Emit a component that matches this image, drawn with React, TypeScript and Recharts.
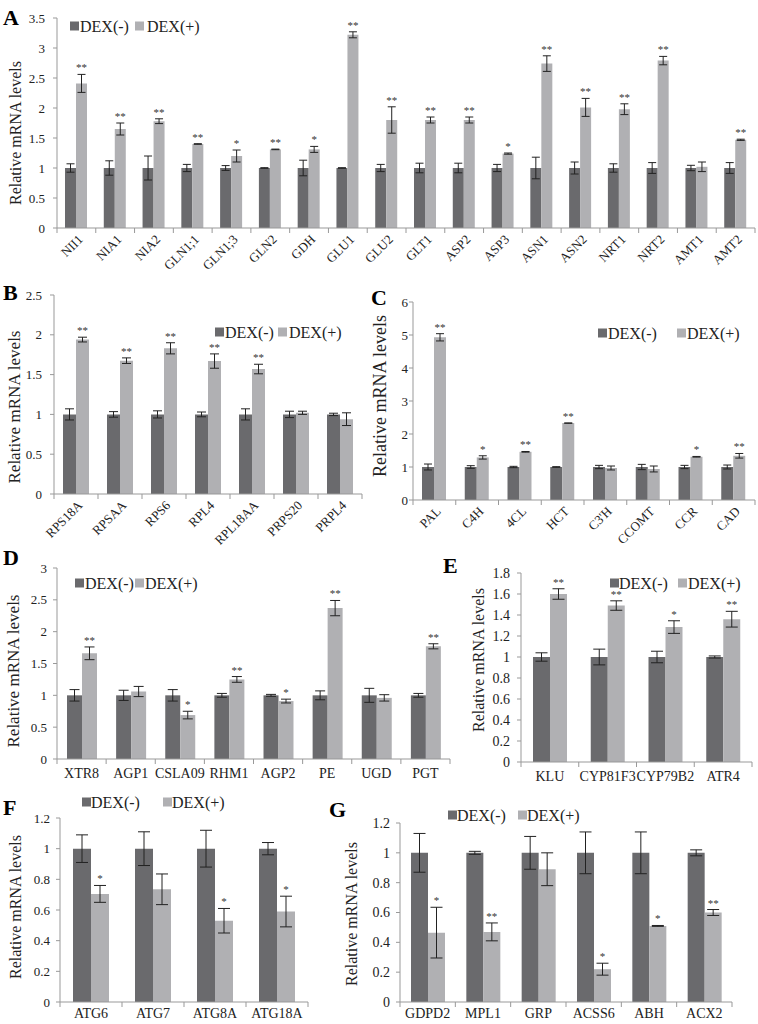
import React from 'react';
import { BarChart, Bar, XAxis, YAxis, ErrorBar, LabelList } from 'recharts';

const DARK = '#6a6a6d';
const LIGHT = '#b0b0b3';
const AXIS = '#999999';
const INK = '#222222';
const FONT = '"Liberation Serif", "Times New Roman", serif';

// A - nitrogen metabolism
const genesA = ['NII1', 'NIA1', 'NIA2', 'GLN1;1', 'GLN1;3', 'GLN2', 'GDH', 'GLU1', 'GLU2', 'GLT1', 'ASP2', 'ASP3', 'ASN1', 'ASN2', 'NRT1', 'NRT2', 'AMT1', 'AMT2'];
const minusA = [1, 1, 1, 1, 1, 1, 1, 1, 1, 1, 1, 1, 1, 1, 1, 1, 1, 1];
const minusErrA = [0.07, 0.12, 0.2, 0.06, 0.04, 0.005, 0.13, 0.005, 0.06, 0.08, 0.08, 0.06, 0.18, 0.1, 0.07, 0.09, 0.045, 0.09];
const plusA = [2.41, 1.65, 1.78, 1.4, 1.2, 1.31, 1.31, 3.22, 1.8, 1.8, 1.8, 1.24, 2.74, 2.01, 1.98, 2.79, 1.02, 1.47];
const plusErrA = [0.15, 0.1, 0.04, 0.005, 0.1, 0.005, 0.05, 0.05, 0.22, 0.05, 0.05, 0.01, 0.13, 0.15, 0.09, 0.07, 0.08, 0.01];
const starsA = ['**', '**', '**', '**', '*', '**', '*', '**', '**', '**', '**', '*', '**', '**', '**', '**', '', '**'];
const ticksA = [0, 0.5, 1, 1.5, 2, 2.5, 3, 3.5];

// B - ribosomal proteins
const genesB = ['RPS18A', 'RPSAA', 'RPS6', 'RPL4', 'RPL18AA', 'PRPS20', 'PRPL4'];
const minusB = [1, 1, 1, 1, 1, 1, 1];
const minusErrB = [0.07, 0.035, 0.045, 0.03, 0.07, 0.04, 0.015];
const plusB = [1.94, 1.675, 1.83, 1.67, 1.57, 1.02, 0.94];
const plusErrB = [0.03, 0.035, 0.07, 0.09, 0.06, 0.02, 0.08];
const starsB = ['**', '**', '**', '**', '**', '', ''];
const ticksB = [0, 0.5, 1, 1.5, 2, 2.5];

// C - phenylpropanoid pathway
const genesC = ['PAL', 'C4H', '4CL', 'HCT', "C3'H", 'CCOMT', 'CCR', 'CAD'];
const minusC = [1, 1, 1, 1, 1, 1, 1, 1];
const minusErrC = [0.09, 0.04, 0.02, 0.01, 0.05, 0.08, 0.05, 0.06];
const plusC = [4.93, 1.29, 1.46, 2.33, 0.97, 0.94, 1.31, 1.34];
const plusErrC = [0.11, 0.05, 0.01, 0.005, 0.06, 0.09, 0.01, 0.07];
const starsC = ['**', '*', '**', '**', '', '', '*', '**'];
const ticksC = [0, 1, 2, 3, 4, 5, 6];

// D - cell wall
const genesD = ['XTR8', 'AGP1', 'CSLA09', 'RHM1', 'AGP2', 'PE', 'UGD', 'PGT'];
const minusD = [1, 1, 1, 1, 1, 1, 1, 1];
const minusErrD = [0.09, 0.08, 0.09, 0.03, 0.015, 0.07, 0.11, 0.03];
const plusD = [1.66, 1.06, 0.69, 1.25, 0.91, 2.37, 0.96, 1.77];
const plusErrD = [0.1, 0.08, 0.06, 0.045, 0.03, 0.12, 0.05, 0.04];
const starsD = ['**', '', '*', '**', '*', '**', '', '**'];
const ticksD = [0, 0.5, 1, 1.5, 2, 2.5, 3];

// E
const genesE = ['KLU', 'CYP81F3', 'CYP79B2', 'ATR4'];
const minusE = [1, 1, 1, 1];
const minusErrE = [0.04, 0.075, 0.055, 0.01];
const plusE = [1.6, 1.49, 1.285, 1.36];
const plusErrE = [0.05, 0.045, 0.06, 0.075];
const starsE = ['**', '**', '*', '**'];
const ticksE = [0, 0.2, 0.4, 0.6, 0.8, 1, 1.2, 1.4, 1.6, 1.8];

// F - autophagy
const genesF = ['ATG6', 'ATG7', 'ATG8A', 'ATG18A'];
const minusF = [1, 1, 1, 1];
const minusErrF = [0.09, 0.11, 0.12, 0.04];
const plusF = [0.705, 0.735, 0.53, 0.59];
const plusErrF = [0.055, 0.1, 0.08, 0.1];
const starsF = ['*', '', '*', '*'];
const ticksF = [0, 0.2, 0.4, 0.6, 0.8, 1, 1.2];

// G - lipid metabolism
const genesG = ['GDPD2', 'MPL1', 'GRP', 'ACSS6', 'ABH', 'ACX2'];
const minusG = [1, 1, 1, 1, 1, 1];
const minusErrG = [0.13, 0.01, 0.11, 0.14, 0.14, 0.02];
const plusG = [0.465, 0.47, 0.89, 0.22, 0.51, 0.6];
const plusErrG = [0.17, 0.06, 0.11, 0.04, 0.003, 0.02];
const starsG = ['*', '**', '', '*', '*', '**'];
const ticksG = [0, 0.2, 0.4, 0.6, 0.8, 1, 1.2];

const XTick = (props: any) => {
  const { x, y, payload, index, bw, n, rotate, fontSize, gap } = props;
  return (
    <g>
      <line x1={x - bw / 2} y1={y} x2={x - bw / 2} y2={y + 5} stroke={AXIS} />
      {index === n - 1 && <line x1={x + bw / 2} y1={y} x2={x + bw / 2} y2={y + 5} stroke={AXIS} />}
      {rotate ? (
        <text
          x={x + 4}
          y={y + gap}
          dy="0.35em"
          textAnchor="end"
          transform={`rotate(-45 ${x + 4} ${y + gap})`}
          fontSize={fontSize}
          fontFamily={FONT}
          fill={INK}
        >
          {payload.value}
        </text>
      ) : (
        <text x={x} y={y + gap} dy="0.71em" textAnchor="middle" fontSize={fontSize} fontFamily={FONT} fill={INK}>
          {payload.value}
        </text>
      )}
    </g>
  );
};

const starContent = (rows: any[]) => (props: any) => {
  const vb = props.viewBox && props.viewBox.width !== undefined ? props.viewBox : props;
  const r = rows[props.index];
  if (!r || !r.star) return null;
  const ppu = vb.height / r.plus;
  const top = vb.y - r.plusErr * ppu;
  return (
    <text x={vb.x + vb.width / 2} y={top - 3} textAnchor="middle" fontSize={11} fill="#333" fontFamily={FONT}>
      {r.star}
    </text>
  );
};

const Panel = (p: any) => {
  const rows = p.genes.map((g: string, i: number) => ({
    name: g,
    minus: p.minus[i],
    minusErr: p.minusErr[i],
    plus: p.plus[i],
    plusErr: p.plusErr[i],
    star: p.stars[i],
  }));
  const yW = 30;
  const margin = { left: p.x0 - p.cx - yW, right: p.cx + p.cw - p.x1, top: p.y0 - p.cy, bottom: 0 };
  const xH = p.cy + p.ch - p.y1;
  const bw = (p.x1 - p.x0) / rows.length;
  return (
    <div style={{ position: 'absolute', left: p.cx, top: p.cy }}>
      <BarChart width={p.cw} height={p.ch} data={rows} margin={margin} barGap={0}>
        <XAxis
          dataKey="name"
          interval={0}
          height={xH}
          tickSize={0}
          tickMargin={0}
          tickLine={false}
          axisLine={{ stroke: AXIS }}
          tick={(t: any) => (
            <XTick {...t} bw={bw} n={rows.length} rotate={p.rotate} fontSize={p.xFont} gap={p.labelGap} />
          )}
        />
        <YAxis
          width={yW}
          domain={[0, p.ticks[p.ticks.length - 1]]}
          ticks={p.ticks}
          interval={0}
          tickSize={4}
          tickMargin={p.yTickMargin}
          axisLine={{ stroke: AXIS }}
          tickLine={{ stroke: AXIS }}
          tick={{ fill: INK, fontSize: p.tickFont, fontFamily: FONT }}
        />
        <Bar dataKey="minus" fill={DARK} barSize={p.barSize} isAnimationActive={false}>
          <ErrorBar dataKey="minusErr" width={p.cap} stroke={INK} strokeWidth={1} direction="y" />
        </Bar>
        <Bar dataKey="plus" fill={LIGHT} barSize={p.barSize} isAnimationActive={false}>
          <ErrorBar dataKey="plusErr" width={p.cap} stroke={INK} strokeWidth={1} direction="y" />
          <LabelList dataKey="star" content={starContent(rows)} />
        </Bar>
      </BarChart>
    </div>
  );
};

const Legend2 = ({ m1, t1, m2, t2, cy }: any) => (
  <g fontFamily={FONT} fontSize={16} fill={INK}>
    <rect x={m1} y={cy - 4.5} width={9} height={9} fill={DARK} />
    <text x={t1} y={cy} dy="0.35em">DEX(-)</text>
    <rect x={m2} y={cy - 4.5} width={9} height={9} fill={LIGHT} />
    <text x={t2} y={cy} dy="0.35em">DEX(+)</text>
  </g>
);

const YLabel = ({ x, y, size }: any) => (
  <text
    x={x}
    y={y}
    dy="0.35em"
    textAnchor="middle"
    transform={`rotate(-90 ${x} ${y})`}
    fontFamily={FONT}
    fontSize={size}
    fill={INK}
  >
    Relative mRNA levels
  </text>
);

const Letter = ({ x, y, t }: any) => (
  <text x={x} y={y} fontFamily={FONT} fontWeight="bold" fontSize={22} fill="#000">
    {t}
  </text>
);

export default function App() {
  return (
    <div style={{ position: 'absolute', left: 0, top: 0, width: 758, height: 1024, background: '#fff', overflow: 'hidden' }}>
      <Panel genes={genesA} minus={minusA} minusErr={minusErrA} plus={plusA} plusErr={plusErrA} stars={starsA} ticks={ticksA}
        cx={0} cy={0} cw={758} ch={290} x0={57} x1={755} y0={18} y1={228}
        barSize={11} cap={4} rotate tickFont={13} xFont={13} yTickMargin={8} labelGap={9} />
      <Panel genes={genesB} minus={minusB} minusErr={minusErrB} plus={plusB} plusErr={plusErrB} stars={starsB} ticks={ticksB}
        cx={0} cy={280} cw={370} ch={275} x0={54} x1={362} y0={295} y1={494}
        barSize={13} cap={4.5} rotate tickFont={13} xFont={13} yTickMargin={8} labelGap={9} />
      <Panel genes={genesC} minus={minusC} minusErr={minusErrC} plus={plusC} plusErr={plusErrC} stars={starsC} ticks={ticksC}
        cx={370} cy={280} cw={388} ch={275} x0={413} x1={755} y0={302} y1={500}
        barSize={12} cap={4} rotate tickFont={13} xFont={13} yTickMargin={1} labelGap={9} />
      <Panel genes={genesD} minus={minusD} minusErr={minusErrD} plus={plusD} plusErr={plusErrD} stars={starsD} ticks={ticksD}
        cx={0} cy={545} cw={460} ch={245} x0={57} x1={450} y0={568} y1={759}
        barSize={15} cap={5} tickFont={13} xFont={14} yTickMargin={6} labelGap={9} />
      <Panel genes={genesE} minus={minusE} minusErr={minusErrE} plus={plusE} plusErr={plusErrE} stars={starsE} ticks={ticksE}
        cx={440} cy={545} cw={318} ch={245} x0={521} x1={752} y0={573} y1={762}
        barSize={17} cap={6} tickFont={14} xFont={14} yTickMargin={7} labelGap={9} />
      <Panel genes={genesF} minus={minusF} minusErr={minusErrF} plus={plusF} plusErr={plusErrF} stars={starsF} ticks={ticksF}
        cx={0} cy={790} cw={330} ch={234} x0={60} x1={308} y0={818} y1={1002}
        barSize={18} cap={6} tickFont={13} xFont={14} yTickMargin={6} labelGap={6} />
      <Panel genes={genesG} minus={minusG} minusErr={minusErrG} plus={plusG} plusErr={plusErrG} stars={starsG} ticks={ticksG}
        cx={330} cy={790} cw={428} ch={234} x0={400} x1={732} y0={823} y1={1002}
        barSize={17} cap={6} tickFont={14} xFont={14} yTickMargin={6} labelGap={6} />

      <svg width={758} height={1024} style={{ position: 'absolute', left: 0, top: 0, pointerEvents: 'none' }}>
        <Letter x={3} y={25} t="A" />
        <Letter x={3} y={300} t="B" />
        <Letter x={371} y={305} t="C" />
        <Letter x={3} y={565} t="D" />
        <Letter x={443} y={573} t="E" />
        <Letter x={3} y={815} t="F" />
        <Letter x={329} y={817} t="G" />

        <YLabel x={15} y={133} size={16} />
        <YLabel x={14} y={407} size={17} />
        <YLabel x={380} y={396} size={18} />
        <YLabel x={13} y={671} size={17} />
        <YLabel x={478} y={660} size={16} />
        <YLabel x={15} y={907} size={16} />
        <YLabel x={351} y={914} size={16} />

        <Legend2 m1={70} t1={80} m2={135} t2={147} cy={26} />
        <Legend2 m1={215} t1={225} m2={278} t2={289} cy={332} />
        <Legend2 m1={598} t1={608} m2={677} t2={687} cy={333} />
        <Legend2 m1={75} t1={85} m2={135} t2={145} cy={583} />
        <Legend2 m1={610} t1={619} m2={678} t2={688} cy={583} />
        <Legend2 m1={82} t1={91} m2={163} t2={172} cy={802} />
        <Legend2 m1={448} t1={457} m2={518} t2={527} cy={815} />
      </svg>
    </div>
  );
}
